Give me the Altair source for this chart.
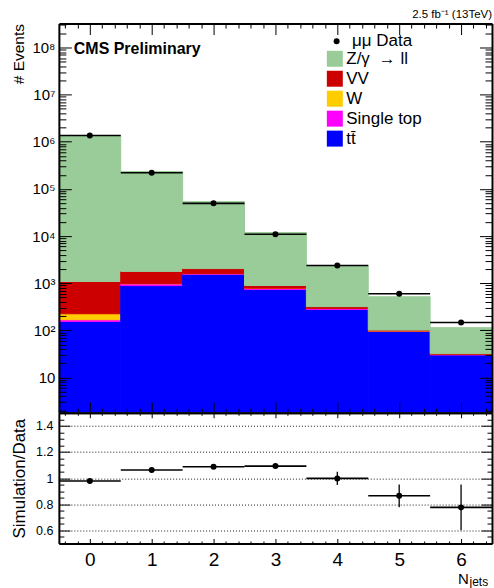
import altair as alt
import pandas as pd
import numpy as np

# ---------------- values ----------------
njets = [0, 1, 2, 3, 4, 5, 6]
data_events = [1.36e6, 2.21e5, 4.95e4, 1.09e4, 2370, 597, 147]
ttbar = [154, 890, 1550, 735, 278, 95, 30]
single_top = [14, 87, 50, 50, 14, 2, 1]
wjets = [57, 2, 1, 1, 0.5, 0.2, 0.1]
diboson = [862, 800, 445, 108, 26, 4, 1]
drellyan = [1334900, 232900, 51750, 11000, 2046, 415, 82]
ratio = [0.978, 1.062, 1.087, 1.092, 0.998, 0.865, 0.776]
ratio_err = [0.004, 0.005, 0.006, 0.01, 0.05, 0.087, 0.175]

# legend order (top to bottom) and colours
process_labels = ["\u2005Z/\u03b3 \u2005\u2192 ll", "VV", "\u2005W", "Single top", "\u2005tt\u0304"]
process_colors = ["#99cc99", "#cc0000", "#ffcc00", "#ff00ff", "#0000ff"]
data_label = "\u03bc\u03bc Data"

y_major = [10, 1e2, 1e3, 1e4, 1e5, 1e6, 1e7, 1e8]
r_major = [0.6, 0.8, 1.0, 1.2, 1.4]

# ---------------- geometry ----------------
W = 434
HT = 390
HB = 131
YMIN, YMAX = 1.786, 3.226e8
FONT = "Liberation Sans"

# ---------------- tables ----------------
stack_series = [ttbar, single_top, wjets, diboson, drellyan]  # bottom -> top
stack_names = [process_labels[4], process_labels[3], process_labels[2],
               process_labels[1], process_labels[0]]
rows = []
for i, nj in enumerate(njets):
    cum = 0.0
    for name, vals in zip(stack_names, stack_series):
        lower = max(cum, 1.0)
        cum += vals[i]
        rows.append({"lo": nj - 0.5, "hi": nj + 0.5, "y0": lower, "y1": cum, "process": name})
stack_df = pd.DataFrame(rows)

data_df = pd.DataFrame({
    "nj": njets,
    "lo": [n - 0.5 for n in njets],
    "hi": [n + 0.5 for n in njets],
    "n": data_events,
    "lab": [data_label] * len(njets),
})

ratio_df = pd.DataFrame({
    "nj": njets,
    "lo": [n - 0.5 for n in njets],
    "hi": [n + 0.5 for n in njets],
    "r": ratio,
    "rlo": [r - e for r, e in zip(ratio, ratio_err)],
    "rhi": [r + e for r, e in zip(ratio, ratio_err)],
})

# ---------------- tick positions ----------------
x_ticks = [round(v, 2) for v in np.arange(-0.4, 6.41, 0.2)]
y_ticks = []
for e in range(0, 9):
    for k in range(1, 10):
        v = k * 10 ** e
        if YMIN <= v <= YMAX:
            y_ticks.append(float(v))
r_ticks = [round(v, 2) for v in np.arange(0.5, 1.501, 0.05)]

X_MAJOR = "abs(datum.value - round(datum.value)) < 1e-6"
Y_MAJOR = "abs(log(datum.value)/LN10 - round(log(datum.value)/LN10)) < 1e-6"
R_MAJOR = "abs(datum.value*5 - round(datum.value*5)) < 1e-6"


def tick_axis(orient, offset, values, major_test, major, minor):
    return alt.Axis(
        orient=orient, offset=offset, values=values, labels=False, title=None,
        grid=False, domain=True, domainColor="black", domainWidth=2,
        ticks=True, tickColor="black", tickWidth=1, tickSize=major,
        tickDash={"condition": {"test": "!(" + major_test + ")", "value": [minor, 200]},
                  "value": [200, 0]},
        zindex=2, minExtent=0,
    )


xs_top = alt.Scale(domain=[-0.5, 6.5], nice=False, zero=False)
ys_top = alt.Scale(type="log", domain=[YMIN, YMAX], nice=False)
color_scale = alt.Scale(domain=process_labels, range=process_colors)

y_label_axis = alt.Axis(
    orient="left", values=y_major,
    labelExpr="datum.value < 11 ? '10' : '10' + ['\u2070','\u00b9','\u00b2','\u00b3','\u2074','\u2075','\u2076','\u2077','\u2078','\u2079'][round(log(datum.value)/LN10)]",
    labelFontSize=15, labelPadding=4, ticks=False, tickSize=0, domain=False, grid=False,
    title="# Events", titleFontSize=15.5, titleFontWeight="normal", titleX=-35.5,
    titleAnchor="end", titleBaseline="alphabetic", zindex=1,
)

bars = alt.Chart(stack_df).mark_rect(clip=True, strokeWidth=1).encode(
    x=alt.X("lo:Q", scale=xs_top, axis=tick_axis("top", -HT, x_ticks, X_MAJOR, 11, 4.5)),
    x2="hi:Q",
    y=alt.Y("y0:Q", scale=ys_top, axis=y_label_axis),
    y2="y1:Q",
    color=alt.Color(
        "process:N",
        scale=color_scale,
        legend=alt.Legend(
            orient="none", legendX=268, legendY=26.8, title=None, symbolType="square",
            symbolSize=256, symbolStrokeWidth=0, symbolOpacity=1, labelFontSize=17,
            labelFont=FONT, labelColor="black", labelOffset=3, rowPadding=2.0, padding=0,
        ),
    ),
    stroke=alt.Stroke("process:N", scale=color_scale, legend=None),
)

data_bars = alt.Chart(data_df).mark_rule(color="black", strokeWidth=1.6).encode(
    x=alt.X("lo:Q", scale=xs_top, axis=tick_axis("bottom", -HT, x_ticks, X_MAJOR, 11, 4.5)),
    x2="hi:Q",
    y=alt.Y("n:Q", scale=ys_top, axis=tick_axis("right", -W, y_ticks, Y_MAJOR, 12.5, 7)),
)

data_pts = alt.Chart(data_df).mark_point(filled=True, color="black", size=36, opacity=1).encode(
    x=alt.X("nj:Q", scale=xs_top, axis=None),
    y=alt.Y("n:Q", scale=ys_top, axis=tick_axis("left", -W, y_ticks, Y_MAJOR, 12.5, 7)),
    shape=alt.Shape(
        "lab:N", scale=alt.Scale(domain=[data_label], range=["circle"]),
        legend=alt.Legend(
            orient="none", legendX=269.8, legendY=9.2, title=None, labelFontSize=17,
            labelFont=FONT, labelColor="black", labelOffset=7, padding=0,
            symbolSize=36, symbolFillColor="black", symbolStrokeColor="black",
        ),
    ),
)

cms_text = alt.Chart(pd.DataFrame({"t": ["CMS Preliminary"]})).mark_text(
    align="left", baseline="alphabetic", fontSize=16, fontWeight="bold", font=FONT, color="black"
).encode(x=alt.value(15), y=alt.value(30.3), text="t:N")

lumi_text = alt.Chart(pd.DataFrame({"t": ["2.5 fb\u207b\u00b9 (13TeV)"]})).mark_text(
    align="right", baseline="alphabetic", fontSize=11.5, font=FONT, color="black"
).encode(x=alt.value(W), y=alt.value(-5.5), text="t:N")

top = alt.layer(bars, data_bars, data_pts, cms_text, lumi_text).resolve_axis(
    x="independent", y="independent"
).properties(width=W, height=HT)

# ---------------- ratio panel ----------------
xs_bot = alt.Scale(domain=[-0.5, 6.5], nice=False, zero=False)
ys_bot = alt.Scale(domain=[0.5, 1.5], nice=False, zero=False)

x_label_axis = alt.Axis(
    orient="bottom", values=njets, format="d", labelFontSize=19, labelPadding=7,
    ticks=False, tickSize=0, domain=False, grid=False, title=None, zindex=1,
)
r_label_axis = alt.Axis(
    orient="left", values=r_major, format="~g", labelFontSize=12.5, labelPadding=6,
    ticks=False, tickSize=0, domain=False, grid=True, gridDash=[1, 2], gridColor="black",
    gridWidth=1, gridOpacity=0.9, title="Simulation/Data", titleFontSize=17,
    titleFontWeight="normal", titleX=-34, titleBaseline="alphabetic", zindex=0,
)

r_hbars = alt.Chart(ratio_df).mark_rule(color="black", strokeWidth=1.6).encode(
    x=alt.X("lo:Q", scale=xs_bot, axis=x_label_axis),
    x2="hi:Q",
    y=alt.Y("r:Q", scale=ys_bot, axis=r_label_axis),
)
r_vbars = alt.Chart(ratio_df).mark_rule(color="black", strokeWidth=1.3).encode(
    x=alt.X("nj:Q", scale=xs_bot, axis=tick_axis("top", -HB, x_ticks, X_MAJOR, 5, 2.5)),
    y=alt.Y("rlo:Q", scale=ys_bot, axis=tick_axis("right", -W, r_ticks, R_MAJOR, 11, 5)),
    y2="rhi:Q",
)
r_pts = alt.Chart(ratio_df).mark_point(filled=True, color="black", size=36, opacity=1).encode(
    x=alt.X("nj:Q", scale=xs_bot, axis=tick_axis("bottom", -HB, x_ticks, X_MAJOR, 5, 2.5)),
    y=alt.Y("r:Q", scale=ys_bot, axis=tick_axis("left", -W, r_ticks, R_MAJOR, 11, 5)),
)
n_text = alt.Chart(pd.DataFrame({"t": ["N"]})).mark_text(
    align="left", baseline="alphabetic", fontSize=15, font=FONT, color="black"
).encode(x=alt.value(400), y=alt.value(171.5), text="t:N")
jets_text = alt.Chart(pd.DataFrame({"t": ["jets"]})).mark_text(
    align="left", baseline="alphabetic", fontSize=12, font=FONT, color="black"
).encode(x=alt.value(411.5), y=alt.value(173.3), text="t:N")

bottom = alt.layer(r_hbars, r_vbars, r_pts, n_text, jets_text).resolve_axis(
    x="independent", y="independent"
).properties(width=W, height=HB)

chart = alt.vconcat(top, bottom, spacing=0, bounds="flush").properties(
    padding={"left": 10, "top": 8, "right": 0, "bottom": 0}
).configure_view(stroke=None).configure_axis(
    labelFont=FONT, titleFont=FONT, labelColor="black", titleColor="black"
).configure(background="white")

chart.save("out.html", embed_options={"renderer": "svg", "actions": False})
